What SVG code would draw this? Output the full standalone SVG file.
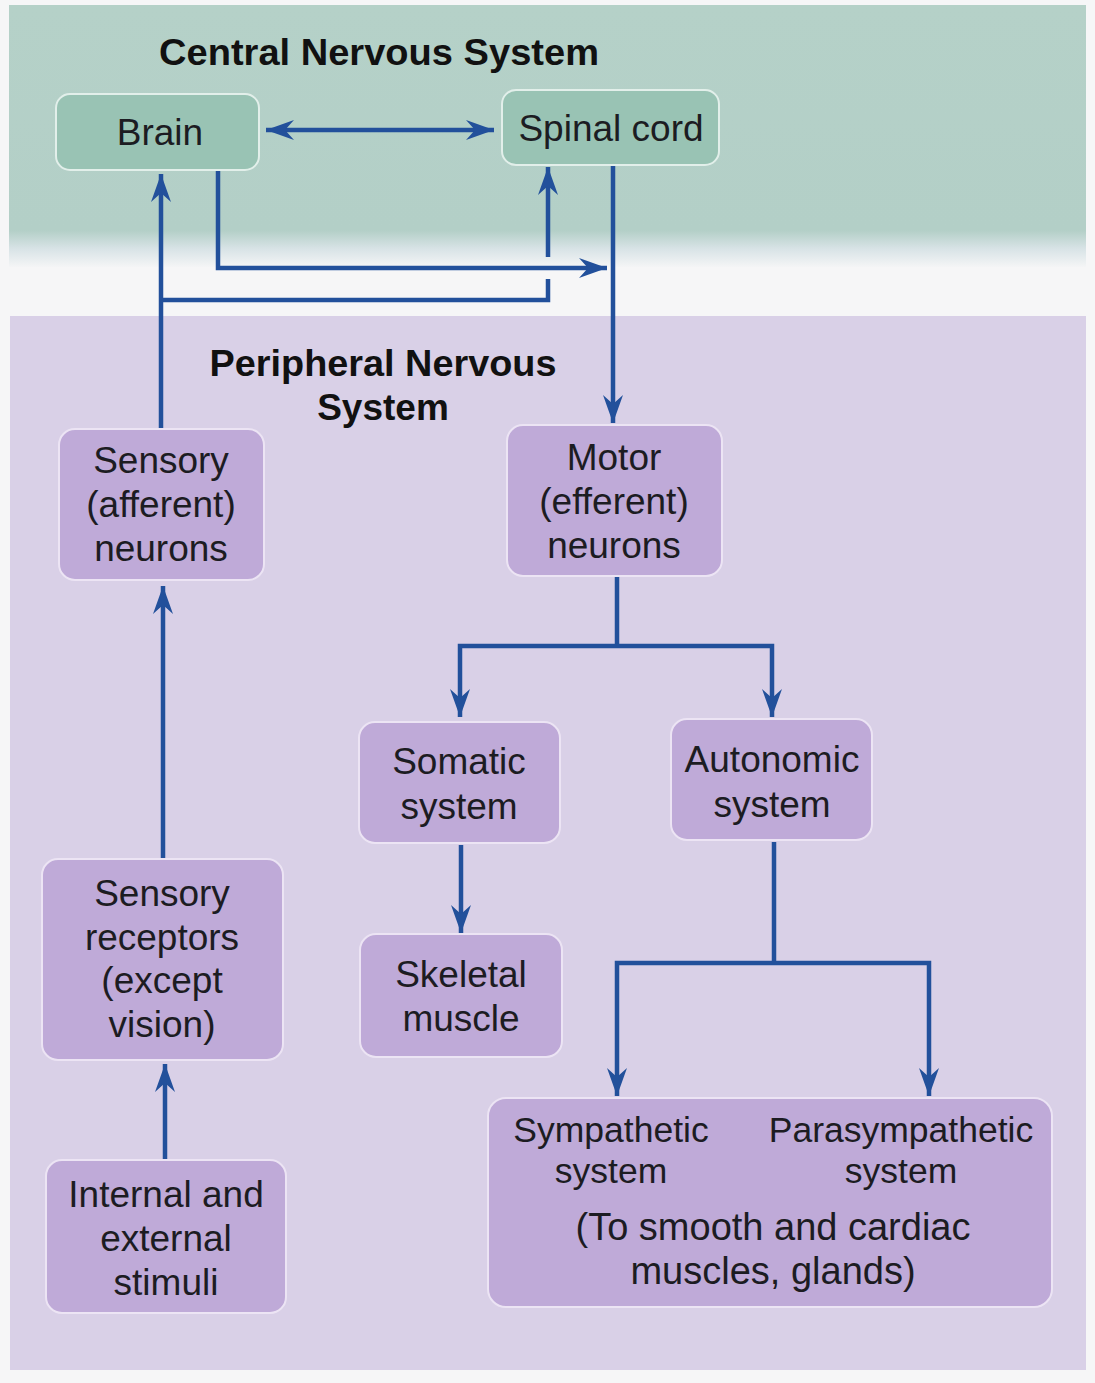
<svg xmlns="http://www.w3.org/2000/svg" width="1095" height="1383" viewBox="0 0 1095 1383">
<style>
.t{font-family:"Liberation Sans",Arial,sans-serif;font-size:37px;fill:#1c1c22;text-anchor:middle}
.tb{font-family:"Liberation Sans",Arial,sans-serif;font-size:37px;font-weight:bold;fill:#111;text-anchor:middle}
.s{font-size:35.5px}
.s2{font-size:38px}
.pn{fill:#bfaad8;stroke:#ece4f4;stroke-width:2}
.cn{fill:#99c3b4;stroke:#e2efea;stroke-width:2}
.c{fill:none;stroke:#22509b;stroke-width:4.5}
</style>
<defs>
<linearGradient id="cnsg" x1="0" y1="0" x2="0" y2="1">
<stop offset="0" stop-color="#b5d1c8"/>
<stop offset="0.86" stop-color="#b3cfc7"/>
<stop offset="0.93" stop-color="#d8e3e6"/>
<stop offset="1" stop-color="#f4f5f6"/>
</linearGradient>
<marker id="ah" markerUnits="userSpaceOnUse" markerWidth="32" markerHeight="26" viewBox="-30 -13 32 26" refX="0" refY="0" orient="auto-start-reverse">
<path d="M0,0 L-28,-10 L-19,0 L-28,10 Z" fill="#22509b"/>
</marker>
</defs>
<rect x="0" y="0" width="1095" height="1383" fill="#f6f6f7"/>
<rect x="9" y="5" width="1077" height="262" fill="url(#cnsg)"/>
<rect x="10" y="316" width="1076" height="1054" fill="#d9d0e7"/>
<text class="tb" x="379" y="65" textLength="440" lengthAdjust="spacingAndGlyphs">Central Nervous System</text>
<text class="tb" x="383" y="376" textLength="347" lengthAdjust="spacingAndGlyphs">Peripheral Nervous</text>
<text class="tb" x="383" y="420">System</text>
<g id="connectors">
<line class="c" x1="266" y1="130" x2="494" y2="130" marker-start="url(#ah)" marker-end="url(#ah)"/>
<line class="c" x1="161" y1="430" x2="161" y2="174" marker-end="url(#ah)"/>
<path class="c" d="M218,170 V268 H607" marker-end="url(#ah)"/>
<path class="c" d="M161,300 H548 V279 M548,257 V167" marker-end="url(#ah)"/>
<line class="c" x1="613" y1="165" x2="613" y2="423" marker-end="url(#ah)"/>
<line class="c" x1="617" y1="577" x2="617" y2="646"/>
<path class="c" d="M460,717 V646 H772 V717" marker-start="url(#ah)" marker-end="url(#ah)"/>
<line class="c" x1="461" y1="845" x2="461" y2="933" marker-end="url(#ah)"/>
<line class="c" x1="774" y1="842" x2="774" y2="963"/>
<path class="c" d="M617,1096 V963 H929 V1096" marker-start="url(#ah)" marker-end="url(#ah)"/>
<line class="c" x1="163" y1="860" x2="163" y2="586" marker-end="url(#ah)"/>
<line class="c" x1="165" y1="1160" x2="165" y2="1064" marker-end="url(#ah)"/>
</g>
<g id="brain">
<rect class="cn" x="56" y="94" width="203" height="76" rx="14"/>
<text class="t" x="160" y="145">Brain</text>
</g>
<g id="spinal-cord">
<rect class="cn" x="502" y="90" width="217" height="75" rx="14"/>
<text class="t" x="611" y="141">Spinal cord</text>
</g>
<g id="sensory-neurons">
<rect class="pn" x="59" y="429" width="205" height="151" rx="16"/>
<text class="t" x="161" y="473">Sensory</text>
<text class="t" x="161" y="517">(afferent)</text>
<text class="t" x="161" y="561">neurons</text>
</g>
<g id="motor-neurons">
<rect class="pn" x="507" y="425" width="215" height="151" rx="16"/>
<text class="t" x="614" y="470">Motor</text>
<text class="t" x="614" y="514">(efferent)</text>
<text class="t" x="614" y="558">neurons</text>
</g>
<g id="somatic">
<rect class="pn" x="359" y="722" width="201" height="121" rx="16"/>
<text class="t" x="459" y="774">Somatic</text>
<text class="t" x="459" y="819">system</text>
</g>
<g id="autonomic">
<rect class="pn" x="671" y="719" width="201" height="121" rx="16"/>
<text class="t" x="772" y="772">Autonomic</text>
<text class="t" x="772" y="817">system</text>
</g>
<g id="skeletal-muscle">
<rect class="pn" x="360" y="934" width="202" height="123" rx="16"/>
<text class="t" x="461" y="987">Skeletal</text>
<text class="t" x="461" y="1031">muscle</text>
</g>
<g id="sensory-receptors">
<rect class="pn" x="42" y="859" width="241" height="201" rx="16"/>
<text class="t" x="162" y="906">Sensory</text>
<text class="t" x="162" y="950">receptors</text>
<text class="t" x="162" y="993">(except</text>
<text class="t" x="162" y="1037">vision)</text>
</g>
<g id="stimuli">
<rect class="pn" x="46" y="1160" width="240" height="153" rx="16"/>
<text class="t" x="166" y="1207">Internal and</text>
<text class="t" x="166" y="1251">external</text>
<text class="t" x="166" y="1295">stimuli</text>
</g>
<g id="autonomic-divisions">
<rect class="pn" x="488" y="1098" width="564" height="209" rx="18"/>
<text class="t s" x="611" y="1142">Sympathetic</text>
<text class="t s" x="611" y="1183">system</text>
<text class="t s" x="901" y="1142">Parasympathetic</text>
<text class="t s" x="901" y="1183">system</text>
<text class="t s2" x="773" y="1240">(To smooth and cardiac</text>
<text class="t s2" x="773" y="1284">muscles, glands)</text>
</g>
</svg>
